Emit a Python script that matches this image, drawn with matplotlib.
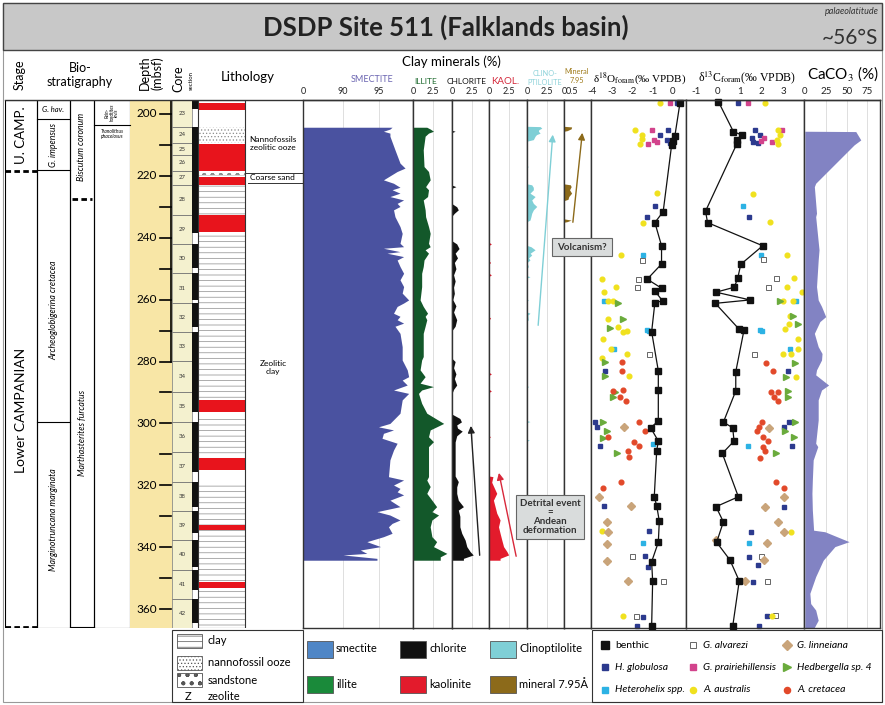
import numpy as np
import matplotlib.pyplot as plt
from matplotlib.patches import Rectangle

plt.rcParams['font.family'] = ['Lato', 'DejaVu Sans']
plt.rcParams['mathtext.fontset'] = 'stix'
plt.rcParams['hatch.linewidth'] = 0.5
plt.rcParams['axes.unicode_minus'] = False

# depth window of the log (mbsf) and figure size in px
TOP_D, BOT_D = 195.5, 366.1
W, H = 885, 705

# ---------------- clay minerals (%) ----------------
smectite_depth = [204.3, 204.9, 205.6, 206.2, 207.2, 211.6, 215.9, 217.5, 218.6, 221.3, 222.4, 223.7,
                  224.5, 225.6, 226.7, 227.8, 228.9, 229.9, 231.0, 233.2, 236.4, 238.6, 241.8, 242.9,
                  243.4, 244.5, 245.0, 246.1, 247.2, 249.3, 251.5, 253.6, 255.8, 257.9, 260.1, 261.1,
                  262.2, 264.4, 265.4, 266.5, 267.6, 268.6, 270.9, 275.2, 278.4, 279.5, 282.7, 284.9,
                  286.0, 287.6, 289.2, 290.3, 292.4, 296.7, 300.0, 301.1, 302.1, 303.2, 304.8, 306.4,
                  308.6, 311.8, 317.2, 318.3, 319.9, 321.0, 322.1, 323.1, 324.8, 326.9, 328.5, 329.6,
                  331.2, 332.3, 333.4, 335.5, 336.6, 338.2, 339.8, 340.9, 342.0, 342.5, 343.6, 344.2]
smectite = [96.8, 96.5, 95.6, 96.5, 96.5, 97.2, 97.9, 98.6, 97.5, 95.6, 97.0, 97.9,
            96.8, 97.9, 96.5, 98.4, 97.5, 97.9, 97.0, 97.2, 97.9, 98.2, 97.9, 98.4,
            95.6, 97.9, 96.1, 98.4, 97.5, 97.9, 98.4, 97.9, 98.4, 98.2, 99.1, 98.4,
            97.5, 97.0, 97.9, 97.5, 98.4, 97.2, 97.9, 98.2, 98.2, 98.2, 98.9, 99.1,
            98.2, 98.9, 97.0, 99.1, 98.2, 97.9, 96.5, 94.9, 97.0, 95.6, 95.4, 97.5,
            97.0, 96.5, 96.3, 98.4, 97.0, 97.9, 97.5, 98.4, 96.5, 97.9, 94.7, 96.5,
            97.9, 96.8, 96.3, 96.8, 95.6, 93.3, 95.2, 92.4, 93.3, 90.0, 94.7, 94.7]

illite_depth = [204.3, 204.9, 205.6, 206.2, 207.2, 211.6, 217.0, 218.6, 221.3, 223.5, 224.5, 226.7,
                227.8, 231.0, 233.2, 236.4, 238.6, 241.8, 242.9, 243.9, 245.0, 247.2, 249.3, 251.5,
                255.8, 260.1, 262.2, 264.4, 265.4, 266.5, 268.6, 270.9, 275.2, 278.4, 279.5, 282.7,
                284.9, 287.0, 288.1, 289.2, 290.3, 293.5, 296.7, 300.0, 301.1, 302.1, 304.3, 305.9,
                307.5, 311.8, 317.2, 318.3, 320.4, 322.6, 324.8, 326.9, 328.5, 329.6, 331.2, 333.4,
                336.6, 338.2, 339.8, 342.0, 343.1, 344.2]
illite = [1.75, 2.2, 2.6, 1.97, 1.54, 1.3, 1.4, 1.97, 2.18, 1.6, 1.97, 1.85,
          1.3, 1.54, 1.6, 1.97, 2.18, 1.97, 2.18, 1.54, 1.97, 1.4, 1.3, 1.1,
          1.1, 0.9, 1.3, 1.85, 1.54, 1.75, 1.54, 1.3, 1.3, 1.3, 1.1, 0.9,
          1.54, 0.9, 2.6, 1.1, 0.7, 1.1, 1.75, 3.9, 3.0, 2.18, 1.97, 2.6,
          1.97, 1.97, 1.97, 1.75, 2.18, 1.75, 2.4, 3.0, 2.4, 3.25, 2.4, 2.18,
          2.4, 3.0, 2.6, 4.3, 3.46, 3.46]

chlorite_depth = [204.3, 205.3, 205.6, 206.0, 223.0, 223.5, 224.0, 229.0, 230.0, 231.0, 232.1, 233.0,
                  241.0, 242.0, 243.5, 245.0, 246.5, 248.0, 250.0, 252.0, 254.0, 256.0, 258.0, 260.0,
                  262.0, 264.0, 266.5, 268.6, 270.0, 279.0, 280.0, 282.0, 284.0, 285.5, 287.6, 289.0,
                  290.3, 297.0, 298.4, 299.5, 300.5, 301.5, 302.5, 304.0, 306.0, 310.0, 315.0, 317.0,
                  318.8, 320.5, 322.6, 324.8, 326.9, 328.0, 330.0, 333.4, 335.5, 337.7, 339.8, 341.4,
                  342.5, 343.6, 344.2]
chlorite = [0.0, 0.0, 0.4, 0.0, 0.0, 0.5, 0.0, 0.0, 0.6, 0.8, 0.3, 0.0,
            0.0, 0.6, 0.9, 0.4, 0.7, 0.3, 0.5, 0.2, 0.4, 0.2, 0.3, 0.1,
            0.5, 0.2, 0.6, 0.4, 0.0, 0.0, 0.4, 0.2, 0.5, 0.3, 0.6, 0.2,
            0.0, 0.0, 1.0, 1.2, 0.6, 0.7, 1.3, 0.6, 0.4, 0.4, 0.4, 0.4,
            0.8, 0.6, 0.6, 0.8, 1.45, 0.8, 1.0, 1.0, 1.24, 1.67, 1.88, 2.3,
            2.7, 1.45, 1.45]

kaolinite_depth = [204.0, 241.5, 242.0, 242.5, 247.5, 248.0, 248.5, 251.5, 252.0, 252.5, 265.5, 266.0,
                   266.5, 283.5, 284.0, 284.5, 289.0, 289.5, 290.0, 304.0, 304.3, 304.6, 317.0, 317.2,
                   319.0, 322.6, 324.8, 326.9, 329.0, 331.2, 333.4, 335.5, 337.7, 339.8, 341.4, 342.5,
                   343.6, 344.2]
kaolinite = [0.0, 0.0, 0.3, 0.0, 0.0, 0.2, 0.0, 0.0, 0.3, 0.0, 0.0, 0.2,
             0.0, 0.0, 0.3, 0.0, 0.0, 0.3, 0.0, 0.0, 0.2, 0.0, 0.0, 0.5,
             0.34, 0.98, 0.56, 0.77, 0.98, 1.4, 1.2, 1.4, 1.62, 1.84, 2.26, 2.48,
             1.4, 1.4]

clino_depth = [204.0, 204.1, 204.6, 205.1, 205.6, 206.2, 206.7, 207.2, 208.3, 208.8, 216.8, 217.0,
               217.2, 222.6, 222.9, 223.7, 224.5, 225.6, 226.7, 227.8, 228.9, 229.9, 231.0, 232.1,
               233.2, 234.3, 234.8, 242.5, 242.9, 243.9, 245.0, 245.6, 246.5, 247.2, 248.0, 249.3,
               250.0, 252.3, 252.6, 253.0, 259.8, 260.1, 260.5, 264.0, 264.4, 265.0, 266.5, 267.0,
               287.8, 288.1, 288.4, 299.1, 299.4, 299.7, 305.1, 305.4, 305.7]
clinoptilolite = [0.0, 1.67, 1.88, 1.5, 1.45, 1.67, 1.2, 1.03, 0.81, 0.0, 0.0, 0.2,
                  0.0, 0.0, 0.6, 0.8, 0.81, 0.38, 1.03, 0.6, 0.81, 1.24, 0.81, 0.6,
                  0.5, 0.38, 0.0, 0.0, 0.5, 1.03, 0.4, 0.6, 0.2, 0.38, 0.0, 0.17,
                  0.0, 0.0, 0.38, 0.0, 0.0, 0.17, 0.0, 0.0, 0.38, 0.1, 0.17, 0.0,
                  0.0, 0.2, 0.0, 0.0, 0.38, 0.0, 0.0, 0.3, 0.0]

mineral795_depth = [204.0, 204.2, 204.8, 205.4, 205.6, 222.6, 222.9, 223.5, 224.5, 225.6, 226.7, 227.6,
                    228.0, 233.9, 234.3, 234.8, 235.0]
mineral795 = [0.0, 0.48, 0.45, 0.2, 0.0, 0.0, 0.4, 0.45, 0.35, 0.48, 0.3, 0.25,
              0.0, 0.0, 0.45, 0.2, 0.0]

# ---------------- isotopes, benthic (depth, value) ----------------
benthic_d18o = [(196.5, 0.35), (207.1, 0.10), (208.6, 0.02), (210.0, -0.06), (231.6, -0.48), (235.1, -0.89),
                (242.6, -0.56), (248.5, -0.56), (253.4, -1.27), (256.3, -0.56), (257.2, -0.89), (260.4, -0.51),
                (261.0, -0.89), (270.4, -1.05), (283.0, -0.72), (289.2, -0.72), (299.2, -0.72), (301.4, -1.10),
                (305.7, -0.72), (308.9, -0.80), (323.7, -0.92), (326.6, -0.80), (331.6, -0.67), (338.4, -0.72),
                (344.7, -1.05), (350.9, -1.00), (365.5, -1.05)]
benthic_d13c = [(196.0, 0.02), (205.7, 0.71), (206.8, 1.09), (208.4, 0.86), (209.8, 0.86), (231.4, -0.57),
                (235.1, -0.48), (242.6, 2.06), (248.6, 1.05), (253.1, 0.91), (256.0, 0.75), (257.6, -0.09),
                (260.1, 1.48), (261.2, -0.12), (269.6, 0.98), (269.8, 1.20), (283.3, 0.82), (289.5, 0.82),
                (299.6, 0.25), (301.4, 0.68), (305.7, 0.74), (309.7, 0.20), (323.7, 0.94), (326.9, -0.09),
                (331.8, 0.25), (338.4, -0.06), (344.1, 0.55), (350.9, 0.98), (365.5, 0.68)]

# ---------------- isotopes, planktonic species (depth, value) ----------------
globulosa_d18o = [(196.5, 0.2), (205.3, -0.23), (206.9, -0.64), (208.5, -0.31), (209.3, -0.15), (229.9, -0.89),
                  (233.4, -1.27), (283.1, -3.36), (299.4, -3.85), (301.1, -3.73), (307.2, -3.6), (326.6, -3.41),
                  (334.7, -1.17), (342.9, -1.38), (346.3, -1.22), (351.0, -0.97), (362.4, -1.5), (365.5, -1.79)]
globulosa_d13c = [(196.5, 0.94), (205.3, 1.7), (206.9, 1.94), (207.8, 1.55), (209.0, 1.62), (209.3, 1.85),
                  (233.4, 1.44), (283.0, 3.21), (299.7, 3.29), (301.1, 3.06), (307.3, 3.43), (326.9, 3.02),
                  (335.0, 1.5), (343.3, 1.44), (345.8, 1.83), (351.2, 1.6), (362.2, 2.24), (365.5, 1.9)]
prairie_d18o = [(196.5, -0.15), (205.3, -1.02), (208.5, -0.94), (209.6, -1.22), (209.0, -0.8)]
prairie_d13c = [(196.5, 1.4), (205.3, 2.94), (207.8, 2.14), (208.8, 2.0), (209.0, 2.47)]
heterohelix_d18o = [(245.5, -1.47), (260.4, -3.41), (269.8, -1.3), (270.2, -1.16), (276.0, -2.92), (306.8, -1.0),
                    (338.6, -1.47)]
heterohelix_d13c = [(229.9, 1.17), (245.5, 1.98), (260.4, 3.6), (269.8, 1.94), (270.2, 2.04), (275.9, 3.32),
                    (307.2, 1.37), (338.6, 1.44)]
alvarezi_d18o = [(247.2, -1.55), (253.4, -1.74), (256.0, -1.79), (277.5, -1.19), (342.9, -2.04), (351.0, -0.51),
                 (362.2, -1.84)]
alvarezi_d13c = [(246.9, 2.06), (252.9, 2.67), (256.0, 2.29), (277.5, 1.67), (342.9, 2.0), (351.0, 2.24),
                 (362.0, 2.62)]
australis_d18o = [(196.5, -0.64), (205.3, -1.88), (206.7, -1.55), (208.0, -1.55), (209.6, -1.63), (225.6, -0.8),
                  (235.1, -1.47), (245.5, -2.57), (253.4, -3.52), (256.0, -2.81), (257.6, -3.41), (260.4, -3.19),
                  (260.6, -2.95), (266.3, -3.19), (268.9, -2.7), (270.5, -2.45), (270.1, -2.29), (272.8, -3.47),
                  (276.0, -3.08), (277.5, -2.29), (278.9, -3.52), (284.7, -2.16), (334.7, -3.52), (362.2, -2.48)]
australis_d13c = [(196.5, 2.17), (205.3, 2.78), (206.7, 2.86), (208.5, 2.7), (209.6, 2.78), (225.8, 1.63),
                  (234.9, 2.4), (245.5, 3.17), (252.9, 3.5), (256.0, 3.17), (257.4, 3.86), (260.4, 3.0),
                  (260.6, 3.47), (265.3, 3.32), (267.9, 3.27), (269.6, 3.09), (272.8, 3.7), (275.9, 3.7),
                  (277.5, 3.0), (277.7, 3.36), (285.1, 3.59), (335.0, 3.36), (362.2, 2.47)]
linneiana_d18o = [(301.1, -2.4), (323.7, -3.64), (326.6, -2.09), (331.7, -3.28), (335.0, -3.19), (338.8, -3.28),
                  (344.5, -3.28), (351.0, -2.2)]
linneiana_d13c = [(301.4, 2.35), (323.7, 3.05), (326.9, 2.18), (331.8, 2.76), (335.2, 3.02), (337.7, -0.09),
                  (338.6, 2.24), (344.1, 2.1), (351.0, 1.26)]
hedbergella_d18o = [(261.0, -2.7), (266.1, -2.45), (269.3, -3.11), (280.0, -3.36), (284.7, -3.36), (289.7, -2.85),
                    (291.6, -2.95), (299.7, -3.47), (302.5, -3.28), (304.8, -3.47), (309.5, -2.78)]
hedbergella_d13c = [(260.4, 2.86), (265.3, 3.47), (267.9, 3.67), (280.4, 3.55), (284.9, 3.13), (289.5, 3.21),
                    (291.4, 3.21), (299.7, 3.55), (302.5, 3.1), (304.3, 3.5), (309.4, 2.67)]
cretacea_d18o = [(280.0, -2.53), (283.1, -2.51), (289.5, -2.98), (289.2, -2.45), (291.4, -2.62), (292.6, -2.32),
                 (299.4, -1.66), (302.5, -1.38), (304.3, -3.19), (305.9, -1.93), (307.3, -1.66), (308.9, -2.2),
                 (310.8, -2.16), (318.8, -2.57), (321.0, -3.47)]
cretacea_d13c = [(280.4, 2.21), (283.0, 2.55), (289.7, 2.44), (289.9, 2.75), (291.6, 2.59), (292.6, 2.75),
                 (299.7, 2.04), (301.1, 1.9), (302.5, 1.8), (304.3, 2.07), (305.7, 2.32), (307.5, 2.07),
                 (308.9, 2.15), (311.1, 1.95), (318.8, 2.67), (320.8, 3.02)]

# ---------------- CaCO3 (%) ----------------
caco3_depth = [205.6, 205.7, 208.4, 210.0, 222.4, 223.5, 232.1, 233.2, 243.9, 247.2, 255.8, 260.1,
               262.2, 265.5, 267.1, 270.9, 275.2, 277.4, 279.5, 282.7, 284.3, 287.6, 289.2, 292.4,
               298.9, 306.4, 307.5, 311.8, 315.1, 318.3, 322.6, 328.0, 334.5, 335.0, 338.2, 339.8,
               344.2, 349.5, 354.9, 358.2, 360.3, 363.6, 366.1]
caco3 = [4.0, 61.0, 67.0, 59.0, 13.0, 11.4, 14.0, 13.0, 17.0, 16.0, 14.0, 16.0,
         20.0, 25.0, 18.0, 11.4, 16.0, 20.6, 20.0, 14.0, 13.0, 28.5, 20.0, 16.0,
         16.0, 13.0, 15.5, 10.0, 9.5, 9.0, 8.5, 9.0, 10.5, 24.0, 53.0, 36.0,
         22.0, 13.0, 6.0, 7.0, 13.0, 16.0, 11.0]

# ---------------- cores, lithology, biostratigraphy ----------------
core_numbers = list(range(23, 43))
core_tops = [195.5, 204.1, 209.5, 213.3, 218.4, 222.9, 232.6, 242.0, 251.5, 261.1, 270.6, 279.8,
             289.8, 299.4, 309.1, 318.8, 328.2, 337.7, 347.2, 356.8]
core_bottoms = core_tops[1:] + [366.1]
core_recovery = [0.35, 1, 1, 1, 1, 1, 0.63, 0.83, 0.9, 0.82, 1, 1, 0.67, 1, 0.67, 0.86, 0.77, 0.91, 0.7, 0.83]

litho_top = [195.5, 196.4, 198.7, 204.2, 209.4, 209.7, 218.4, 218.7, 219.7, 220.4, 222.9, 232.6,
             238.1, 239.1, 292.4, 296.3, 297.3, 311.2, 315.1, 318.9, 332.8, 334.4, 351.3, 353.2]
litho_bottom = litho_top[1:] + [366.1]
litho_type = ['blank', 'red', 'blank', 'ooze', 'blank', 'red', 'clay', 'sand', 'clay', 'red', 'clay', 'red',
              'blank', 'clay', 'red', 'blank', 'clay', 'red', 'blank', 'clay', 'red', 'clay', 'red', 'clay']

foram_zones = ['G. hav.', 'G. impensus', 'Archeoglobigerina cretacea', 'Marginotruncana marginata']
foram_bounds = [195.5, 201.6, 218.1, 299.4, 366.1]
nanno_zones = ['Biscutum coronum', 'Marthasterites furcatus']
nanno_bounds = [195.5, 227.5, 366.1]

fig = plt.figure(figsize=(W / 100, H / 100), dpi=100)


def px_axes(x0, y0, x1, y1, **kw):
    return fig.add_axes([x0 / W, 1 - y1 / H, (x1 - x0) / W, (y1 - y0) / H], **kw)


def panel(x0, x1, xlim, ticks, labels, grid=None, scale=None):
    ax = px_axes(x0, 100, x1, 628)
    if scale is not None:
        ax.set_xscale('function', functions=scale)
    ax.set_xlim(*xlim)
    ax.set_ylim(BOT_D, TOP_D)
    ax.set_yticks([])
    ax.xaxis.tick_top()
    ax.set_xticks(ticks)
    ax.set_xticklabels(labels)
    ax.tick_params(axis='x', length=0, labelsize=6.5, pad=3, colors='#222')
    for g in (grid or []):
        ax.axvline(g, color='#dedede', lw=0.7, zorder=0)
    for s in ax.spines.values():
        s.set_color('#333')
        s.set_linewidth(1.0)
    return ax


# ---- left block: stratigraphy, depth, cores, lithology ----
axL = px_axes(5, 100, 303, 628)
axL.set_xlim(5, 303)
axL.set_ylim(BOT_D, TOP_D)
axL.axis('off')

for x0, x1 in [(5, 37), (37, 70), (70, 94), (94, 130)]:
    axL.add_patch(Rectangle((x0, TOP_D), x1 - x0, BOT_D - TOP_D, fill=False, ec='k', lw=0.8))
axL.plot([5, 37], [218.4, 218.4], color='k', lw=2, ls=(0, (2, 1.2)))
axL.plot([5, 37], [365.8, 365.8], color='k', lw=2, ls=(0, (2, 1.2)))
axL.text(21, 206.8, 'U. CAMP.', rotation=90, ha='center', va='center', fontsize=9.5)
axL.text(21, 295.7, 'Lower CAMPANIAN', rotation=90, ha='center', va='center', fontsize=10)

for b in foram_bounds[1:-1]:
    axL.plot([37, 70], [b, b], color='k', lw=0.8)
axL.text(53.5, (foram_bounds[0] + foram_bounds[1]) / 2, foram_zones[0], ha='center', va='center',
         fontsize=5.5, style='italic')
foram_mid = [210.0, 263.3, 331.2]
for name, d in zip(foram_zones[1:], foram_mid):
    axL.text(53.5, d, name, rotation=90, ha='center', va='center', fontsize=6.3, style='italic')

axL.plot([72, 92], [nanno_bounds[1], nanno_bounds[1]], color='k', lw=2, ls=(0, (2, 1.2)))
axL.plot([70, 94], [365.8, 365.8], color='k', lw=0.8)
for name, d in zip(nanno_zones, [210.6, 303.1]):
    axL.text(82, d, name, rotation=90, ha='center', va='center', fontsize=6.3, style='italic')

axL.plot([94, 130], [203.6, 203.6], color='k', lw=0.8)
axL.text(112, 199.5, 'Rein-\nhardtites\nlevis', rotation=90, ha='center', va='center', fontsize=3.3,
         style='italic', linespacing=0.9)
axL.text(112, 206.5, 'Tranolithus\nphacelosus', ha='center', va='center', fontsize=3.5, style='italic',
         linespacing=0.9)

# depth scale
axL.add_patch(Rectangle((130, TOP_D), 42, BOT_D - TOP_D, fc='#f8e6a6', ec='none'))
axL.plot([171, 171], [TOP_D, 280], color='k', lw=1.2)
for d in np.arange(200, 361, 10):
    axL.plot([160, 171], [d, d], color='k', lw=1.2)
    if d % 20 == 0:
        axL.text(157, d, str(d), ha='right', va='center', fontsize=8.5)

# cores and sections
axL.add_patch(Rectangle((172, TOP_D), 20, BOT_D - TOP_D, fc='#f4f1cf', ec='none'))
for n, t, b, r in zip(core_numbers, core_tops, core_bottoms, core_recovery):
    axL.add_patch(Rectangle((172, t), 20, b - t, fill=False, ec='#777', lw=0.5))
    axL.text(182, (t + b) / 2, str(n), ha='center', va='center', fontsize=4.3, color='#333')
    axL.add_patch(Rectangle((192, t), 6, (b - t) * r, fc='#111', ec='none'))

# lithology column
litho_style = {'red': dict(fc='#e8141c', hatch=None), 'blank': dict(fc='white', hatch=None),
               'ooze': dict(fc='white', hatch='.....'), 'sand': dict(fc='white', hatch='oo..'),
               'clay': dict(fc='white', hatch='---')}
for t, b, kind in zip(litho_top, litho_bottom, litho_type):
    st = litho_style[kind]
    axL.add_patch(Rectangle((198, t), 47, b - t, fc=st['fc'], hatch=st['hatch'], ec='#8c8c8c', lw=0))
axL.add_patch(Rectangle((198, TOP_D), 47, BOT_D - TOP_D, fill=False, ec='#333', lw=0.8))
axL.text(273, 209.5, 'Nannofossils\nzeolitic ooze', ha='center', va='center', fontsize=6, linespacing=1.1)
axL.plot([245, 303], [219.1, 219.1], color='#333', lw=0.7)
axL.plot([248, 303], [222.3, 222.3], color='#333', lw=0.7)
axL.text(250, 220.7, 'Coarse sand', ha='left', va='center', fontsize=6)
axL.text(273, 282.0, 'Zeolitic\nclay', ha='center', va='center', fontsize=6, linespacing=1.1)

# ---- clay mineral panels ----
smec_fwd = lambda v: np.interp(v, [0, 90, 100], [0, 40, 112])
smec_inv = lambda p: np.interp(p, [0, 40, 112], [0, 90, 100])
ax_sm = panel(303, 413, (0, 99.7), [0, 90, 95], ['0', '90', '95'], grid=[90, 95], scale=(smec_fwd, smec_inv))
ax_sm.fill_betweenx(smectite_depth, 0, smectite, color='#4a52a0', lw=0)

ax_il = panel(413, 452, (0, 4.95), [0, 2.5], ['0', '2.5'], grid=[2.5])
ax_il.fill_betweenx(illite_depth, 0, illite, color='#13582a', lw=0)

ax_ch = panel(452, 489, (0, 4.7), [0, 2.5], ['0', '2.5'], grid=[2.5])
ax_ch.fill_betweenx(chlorite_depth, 0, chlorite, color='#111111', lw=0)
ax_ch.annotate('', xy=(2.37, 299.9), xytext=(3.54, 343.5),
               arrowprops=dict(arrowstyle='-|>', color='#222', lw=1, mutation_scale=10))

ax_ka = panel(489, 527, (0, 4.8), [0, 2.5], ['0', '2.5'], grid=[2.5])
ax_ka.fill_betweenx(kaolinite_depth, 0, kaolinite, color='#e31b2c', lw=0)
ax_ka.annotate('', xy=(1.18, 315.1), xytext=(3.5, 343.8),
               arrowprops=dict(arrowstyle='-|>', color='#d8283a', lw=1, mutation_scale=10))

ax_cl = panel(527, 564, (0, 4.7), [0, 2.5], ['0', '2.5'], grid=[2.5])
ax_cl.fill_betweenx(clino_depth, 0, clinoptilolite, color='#7fcfd6', lw=0)
ax_cl.annotate('', xy=(3.3, 205.8), xytext=(1.39, 269.2),
               arrowprops=dict(arrowstyle='-|>', color='#7fcfd6', lw=1, mutation_scale=10))

ax_mn = panel(564, 591, (0, 1.7), [0, 0.5], ['0', '0.5'])
ax_mn.fill_betweenx(mineral795_depth, 0, mineral795, color='#8c6a1a', lw=0)
ax_mn.annotate('', xy=(1.17, 205.2), xytext=(0.54, 235.9),
               arrowprops=dict(arrowstyle='-|>', color='#8c6a1a', lw=1, mutation_scale=10))

# ---- isotope panels ----
species = [
    (globulosa_d18o, globulosa_d13c, dict(marker='s', ms=3.0, mfc='#2c3a8e', mec='#2c3a8e')),
    (prairie_d18o, prairie_d13c, dict(marker='s', ms=3.0, mfc='#d2438c', mec='#d2438c')),
    (heterohelix_d18o, heterohelix_d13c, dict(marker='s', ms=3.0, mfc='#2cb2e4', mec='#2cb2e4')),
    (alvarezi_d18o, alvarezi_d13c, dict(marker='s', ms=3.6, mfc='white', mec='#666', mew=0.7)),
    (australis_d18o, australis_d13c, dict(marker='o', ms=3.4, mfc='#f0e11e', mec='#f0e11e')),
    (linneiana_d18o, linneiana_d13c, dict(marker='D', ms=3.6, mfc='#c9a47a', mec='#c9a47a')),
    (hedbergella_d18o, hedbergella_d13c, dict(marker='>', ms=4.0, mfc='#6aab3c', mec='#6aab3c')),
    (cretacea_d18o, cretacea_d13c, dict(marker='o', ms=3.4, mfc='#e2492a', mec='#e2492a')),
]

ax_o = panel(591, 686, (-4.05, 0.65), [-4, -3, -2, -1, 0], ['-4', '-3', '-2', '-1', '0'])
ax_c = panel(686, 804, (-1.47, 3.96), [-1, 0, 1, 2, 3], ['-1', '0', '1', '2', '3'])
for ax in (ax_o, ax_c):
    ax.tick_params(axis='x', labelsize=7)
for o_pts, c_pts, st in species:
    for ax, pts in ((ax_o, o_pts), (ax_c, c_pts)):
        d, v = zip(*pts)
        ax.plot(v, d, ls='none', clip_on=False, **st)
for ax, pts in ((ax_o, benthic_d18o), (ax_c, benthic_d13c)):
    d, v = zip(*pts)
    ax.plot(v, d, color='#111', lw=0.9, marker='s', ms=4.6, mfc='#111', mec='#111', clip_on=False, zorder=5)

ax_ca = panel(804, 880, (-1, 90), [0, 25, 50, 75], ['0', '25', '50', '75'], grid=[25, 50, 75])
ax_ca.tick_params(axis='x', labelsize=7)
ax_ca.fill_betweenx(caco3_depth, 0, caco3, color='#8283c3', lw=0)

# ---- overlay: title, headers, notes, legends ----
ov = fig.add_axes([0, 0, 1, 1], facecolor='none')
ov.set_xlim(0, W)
ov.set_ylim(H, 0)
ov.axis('off')

ov.add_patch(Rectangle((3, 3), 879, 699, fill=False, ec='#999', lw=0.8))
ov.add_patch(Rectangle((3, 3), 879, 47, fc='#c8c8c8', ec='#444', lw=1))
ov.text(446, 27, 'DSDP Site 511 (Falklands basin)', ha='center', va='center', fontsize=18.5,
        fontweight='bold', color='#222')
ov.text(852, 12, 'palaeolatitude', ha='center', va='center', fontsize=6.5, style='italic', color='#333')
ov.text(850, 38, '~56°S', ha='center', va='center', fontsize=15, color='#333')
ov.plot([5, 880], [100, 100], color='#333', lw=1)

ov.text(20, 75, 'Stage', rotation=90, ha='center', va='center', fontsize=9)
ov.text(80, 75, 'Bio-\nstratigraphy', ha='center', va='center', fontsize=9, linespacing=1.2)
ov.text(151, 73, 'Depth\n(mbsf)', rotation=90, ha='center', va='center', fontsize=9, linespacing=1.0)
ov.text(178, 79, 'Core', rotation=90, ha='center', va='center', fontsize=9)
ov.text(191, 80, 'section', rotation=90, ha='center', va='center', fontsize=4.3)
ov.text(248, 77, 'Lithology', ha='center', va='center', fontsize=9.5)

ov.text(451, 62, 'Clay minerals (%)', ha='center', va='center', fontsize=9.5)
ov.text(372, 80, 'SMECTITE', ha='center', va='center', fontsize=6.5, color='#6b65b1')
ov.text(426, 82, 'ILLITE', ha='center', va='center', fontsize=6, color='#1d6a2e')
ov.text(467, 82, 'CHLORITE', ha='center', va='center', fontsize=6, color='#111')
ov.text(505, 82, 'KAOL.', ha='center', va='center', fontsize=7, color='#d42a3c')
ov.text(545, 78, 'CLINO-\nPTILOLITE', ha='center', va='center', fontsize=5.3, color='#8fd3da', linespacing=1.3)
ov.text(577, 76, 'Mineral\n7.95', ha='center', va='center', fontsize=5.3, color='#a07c1c', linespacing=1.3)
ov.text(640, 78, r'δ$^{18}$O$_{\rm foram}$(‰ VPDB)', ha='center', va='center', fontsize=8,
        family=['Liberation Serif', 'DejaVu Serif'])
ov.text(747, 78, r'δ$^{13}$C$_{\rm foram}$(‰ VPDB)', ha='center', va='center', fontsize=8.5,
        family=['Liberation Serif', 'DejaVu Serif'])
ov.text(843, 74, r'CaCO$_3$ (%)', ha='center', va='center', fontsize=11)

ov.text(582, 247, 'Volcanism?', ha='center', va='center', fontsize=7, fontweight='bold', color='#333',
        bbox=dict(boxstyle='square,pad=0.5', fc='#d9dcdc', ec='#666', lw=0.8))
ov.text(550, 517, 'Detrital event\n=\nAndean\ndeformation', ha='center', va='center', fontsize=7,
        fontweight='bold', color='#333', linespacing=1.0,
        bbox=dict(boxstyle='square,pad=0.4', fc='#d9dcdc', ec='#666', lw=0.8))

# lithology legend
ov.add_patch(Rectangle((172, 630), 131, 72, fill=False, ec='#333', lw=0.8))
lith_legend = [('clay', '---', 641), ('nannofossil ooze', '.....', 663), ('sandstone', 'oo..', 680)]
for name, hatch, y in lith_legend:
    ov.add_patch(Rectangle((177, y - 7), 25, 14, fc='white', hatch=hatch, ec='#555', lw=0.6))
    ov.text(208, y, name, ha='left', va='center', fontsize=8)
ov.text(188, 697, 'Z', ha='center', va='center', fontsize=8)
ov.text(208, 697, 'zeolite', ha='left', va='center', fontsize=8)

# clay legend
clay_legend = [('smectite', '#4f86c6', 307, 649), ('chlorite', '#111111', 400, 649),
               ('Clinoptilolite', '#7fcfd6', 490, 649), ('illite', '#1a8a3a', 307, 684),
               ('kaolinite', '#e31b2c', 400, 684), ('mineral 7.95Å', '#8c6a1a', 490, 684)]
for name, col, x, y in clay_legend:
    ov.add_patch(Rectangle((x, y - 8), 26, 17, fc=col, ec='#555', lw=0.6))
    ov.text(x + 29, y, name, ha='left', va='center', fontsize=8)

# species legend
ov.add_patch(Rectangle((592, 630), 290, 72, fill=False, ec='#333', lw=0.8))
sp_legend = [('benthic', dict(marker='s', ms=4.6, mfc='#111', mec='#111'), 605, 645, 'normal'),
             ('H. globulosa', species[0][2], 605, 667, 'italic'),
             ('Heterohelix spp.', species[2][2], 605, 690, 'italic'),
             ('G. alvarezi', species[3][2], 693, 645, 'italic'),
             ('G. prairiehillensis', species[1][2], 693, 667, 'italic'),
             ('A. australis', species[4][2], 693, 690, 'italic'),
             ('G. linneiana', species[5][2], 787, 645, 'italic'),
             ('Hedbergella sp. 4', species[6][2], 787, 667, 'italic'),
             ('A. cretacea', species[7][2], 787, 690, 'italic')]
for name, st, x, y, style in sp_legend:
    st = dict(st)
    st['ms'] = st['ms'] * 1.3
    ov.plot([x], [y], ls='none', **st)
    ov.text(x + 10, y, name, ha='left', va='center', fontsize=7.5, style=style)

fig.savefig('out.png', dpi=100)
